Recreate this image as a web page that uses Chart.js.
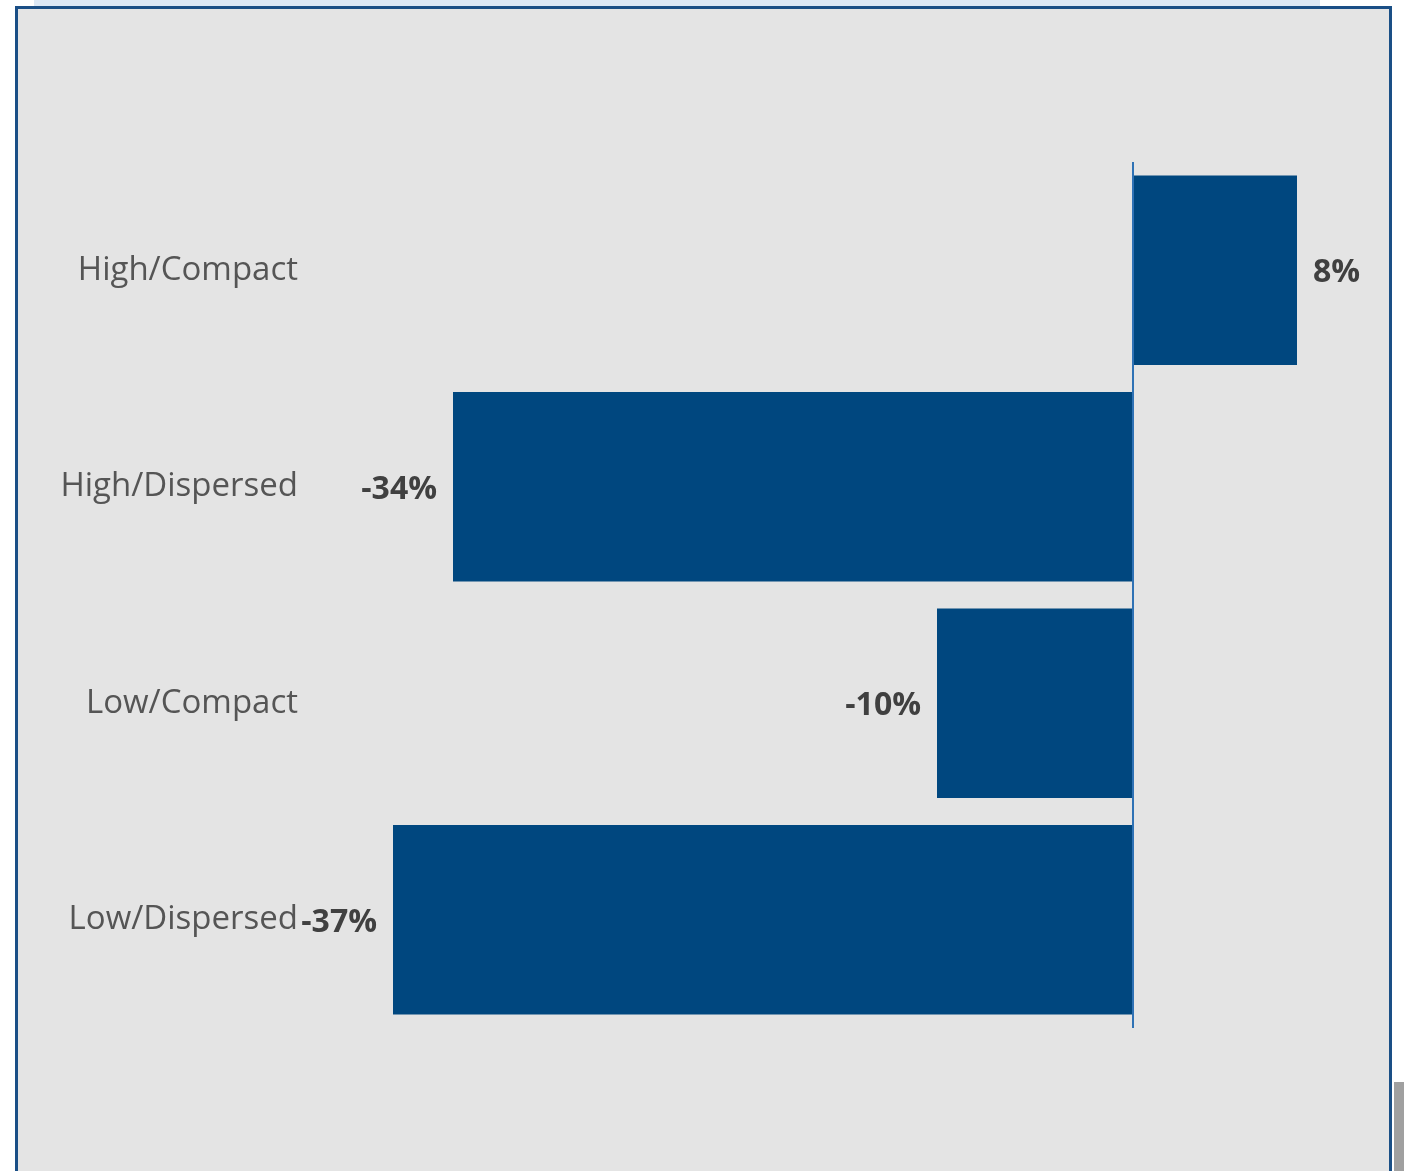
<!DOCTYPE html>
<html><head><meta charset="utf-8">
<script src="https://cdn.jsdelivr.net/npm/chart.js@4.4.1/dist/chart.umd.min.js"></script>
<style>
html,body{margin:0;padding:0;width:1404px;height:1171px;background:#fff;overflow:hidden;position:relative;}
#strip{position:absolute;left:34px;top:0;width:1286px;height:6px;background:#dce8f5;}
#panel{position:absolute;left:15px;top:6px;width:1371px;height:1200px;border:3px solid #1a4f86;background:#e4e4e4;}
#grey{position:absolute;left:1394px;top:1082px;width:10px;height:89px;background:#a0a0a0;}
#wrap{position:absolute;left:0;top:0;width:1404px;height:1171px;}
</style></head>
<body>
<div id="strip"></div>
<div id="panel"></div>
<div id="grey"></div>
<div id="wrap"><canvas id="c" width="1404" height="1171"></canvas></div>
<script>
const categories = ["High/Compact", "High/Dispersed", "Low/Compact", "Low/Dispersed"];
const values = [8.2, -34.0, -9.8, -37.0];
const valueLabels = ["8%", "-34%", "-10%", "-37%"];
const xMin = -40, xMax = 10;

const FONT = "'Open Sans', 'Noto Sans', sans-serif";

const valueLabelPlugin = {
  id: 'valueLabels',
  afterDatasetsDraw(chart) {
    const ctx = chart.ctx;
    const xs = chart.scales.x;
    const area = chart.chartArea;
    const zx = xs.getPixelForValue(0);
    ctx.save();
    ctx.strokeStyle = '#2f72b5';
    ctx.lineWidth = 2;
    ctx.beginPath();
    ctx.moveTo(zx, area.top);
    ctx.lineTo(zx, area.bottom);
    ctx.stroke();
    const meta = chart.getDatasetMeta(0);
    ctx.font = "bold 32px " + FONT;
    ctx.fillStyle = '#404040';
    ctx.textBaseline = 'middle';
    meta.data.forEach((bar, i) => {
      const v = values[i];
      if (v >= 0) { ctx.textAlign = 'left'; ctx.fillText(valueLabels[i], bar.x + 16, bar.y + 3); }
      else { ctx.textAlign = 'right'; ctx.fillText(valueLabels[i], bar.x - 16, bar.y + 3); }
    });
    ctx.restore();
  }
};

new Chart(document.getElementById('c'), {
  type: 'bar',
  data: {
    labels: categories,
    datasets: [{
      data: values,
      backgroundColor: '#00477f',
      borderWidth: 0,
      categoryPercentage: 1.0,
      barPercentage: 0.876
    }]
  },
  options: {
    indexAxis: 'y',
    responsive: false,
    animation: false,
    layout: { padding: { left: 0, right: 71, top: 162, bottom: 143 } },
    plugins: { legend: { display: false }, tooltip: { enabled: false } },
    scales: {
      x: { display: false, min: xMin, max: xMax },
      y: {
        afterFit(scale) { scale.width = 333; },
        grid: { display: false, drawTicks: false },
        border: { display: false },
        ticks: { padding: 35, color: '#555555', font: { family: FONT, size: 33 } }
      }
    }
  },
  plugins: [valueLabelPlugin]
});
</script>
</body></html>
